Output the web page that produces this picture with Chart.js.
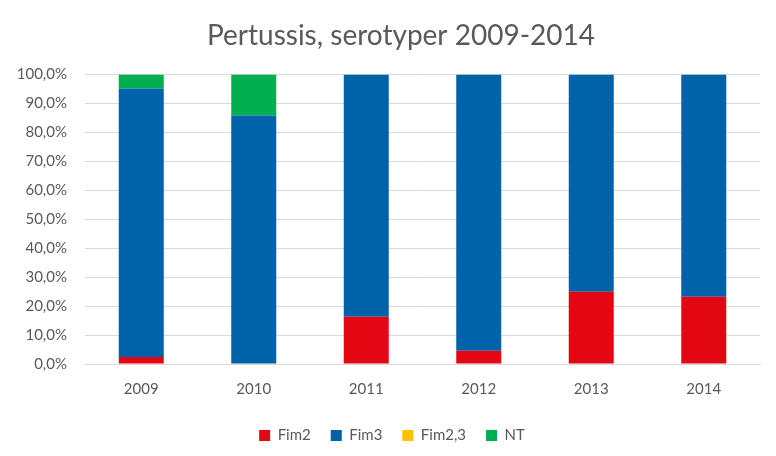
<!DOCTYPE html>
<html>
<head>
<meta charset="utf-8">
<script src="https://cdn.jsdelivr.net/npm/chart.js@4"></script>
<style>
html,body{margin:0;padding:0;background:#fff;}
#wrap{width:776px;height:456px;}
</style>
</head>
<body>
<div id="wrap"><canvas id="c" width="776" height="456"></canvas></div>
<script>
const categories = ["2009", "2010", "2011", "2012", "2013", "2014"];
const fim2 = [2.4, 0, 16.3, 4.6, 25.0, 23.2];
const fim3 = [92.8, 85.9, 83.7, 95.4, 75.0, 76.8];
const fim23 = [0, 0, 0, 0, 0, 0];
const nt = [4.8, 14.1, 0, 0, 0, 0];
const yTicks = [0, 10, 20, 30, 40, 50, 60, 70, 80, 90, 100];

const FONT = "Lato, 'Open Sans', sans-serif";
const GREY = "#595959";

const shiftBlocks = {
  id: 'shiftBlocks',
  afterLayout(chart) {
    if (chart.titleBlock) {
      chart.titleBlock.left += 42;
      chart.titleBlock.width = chart.titleBlock.right - chart.titleBlock.left;
    }
    if (chart.legend) {
      chart.legend.left += 24;
    }
  }
};

new Chart(document.getElementById('c'), {
  type: 'bar',
  data: {
    labels: categories,
    datasets: [
      {label: 'Fim2', data: fim2, backgroundColor: '#E30613'},
      {label: 'Fim3', data: fim3, backgroundColor: '#0063AA'},
      {label: 'Fim2,3', data: fim23, backgroundColor: '#FFC000'},
      {label: 'NT', data: nt, backgroundColor: '#00B050'}
    ]
  },
  plugins: [shiftBlocks],
  options: {
    responsive: false,
    animation: false,
    layout: {padding: {left: 0, right: 16, top: 10, bottom: 3}},
    datasets: {bar: {categoryPercentage: 1.0, barPercentage: 0.4}},
    plugins: {
      title: {
        display: true,
        text: 'Pertussis, serotyper 2009-2014',
        color: GREY,
        font: {family: FONT, size: 28, weight: 'normal'},
        padding: {top: 9, bottom: 22}
      },
      legend: {
        position: 'bottom',
        labels: {
          color: GREY,
          font: {family: FONT, size: 15},
          boxWidth: 11,
          boxHeight: 11,
          padding: 20
        }
      },
      tooltip: {enabled: false}
    },
    scales: {
      x: {
        stacked: true,
        afterFit: (s) => { s.height += 2; },
        grid: {display: false},
        border: {display: true, color: '#d9d9d9'},
        ticks: {color: GREY, font: {family: FONT, size: 15}, padding: 8}
      },
      y: {
        stacked: true,
        min: 0,
        max: 100,
        afterFit: (s) => { s.width = 85; },
        afterBuildTicks: (s) => { s.ticks = yTicks.map(v => ({value: v})); },
        grid: {color: '#d9d9d9', lineWidth: 1, drawTicks: false},
        border: {display: false},
        ticks: {
          color: GREY,
          font: {family: FONT, size: 15},
          padding: 18,
          callback: (v) => v.toFixed(1).replace('.', ',') + '%'
        }
      }
    }
  }
});
</script>
</body>
</html>
